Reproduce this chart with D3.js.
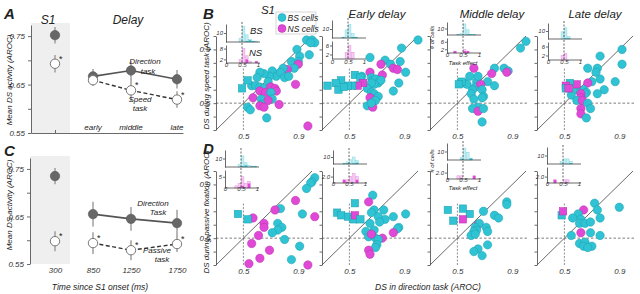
<!DOCTYPE html>
<html>
<head>
<meta charset="utf-8">
<script src="https://cdn.jsdelivr.net/npm/d3@7"></script>
<style>
  body { margin: 0; background: #fff; }
  svg text { font-family: "Liberation Sans", Arial, sans-serif; font-style: italic; fill: #222; }
  .axis path, .axis line { stroke: #444; stroke-width: 0.8; }
  .axis text { font-size: 8px; fill: #333; }
</style>
</head>
<body>
<svg id="fig" width="640" height="294"></svg>
<script>
// ---- panels A and C: mean DS activity ----
const epochs = ['S1', 'early', 'middle', 'late'];
const epochTimes = [300, 850, 1250, 1750];
const timeTicks = [300, 850, 1250, 1750];
const meanTicks = [0.55, 0.6, 0.65, 0.7, 0.75];
const meanLabels = [0.55, 0.65, 0.75];

const dirSpeedMean = [0.752, 0.667, 0.679, 0.661];
const dirSpeedErr = [0.017, 0.015, 0.019, 0.019];
const speedMean = [0.693, 0.659, 0.638, 0.619];
const speedErr = [0.018, 0.012, 0.023, 0.017];
const speedSig = [1, 0, 1, 1];

const dirPassMean = [0.735, 0.655, 0.645, 0.636];
const dirPassErr = [0.017, 0.026, 0.025, 0.028];
const passMean = [0.598, 0.594, 0.579, 0.592];
const passErr = [0.021, 0.023, 0.021, 0.017];
const passSig = [1, 1, 1, 1];

// ---- panels B and D: per-cell scatter [direction AROC, other AROC, type, square] ----
const scatterTicks = [0.3, 0.4, 0.5, 0.6, 0.7, 0.8, 0.9, 1.0];
const scatterLabels = [0.5, 0.9];
const colTitles = ['S1', 'Early delay', 'Middle delay', 'Late delay'];

const bS1 = [
  [0.96, 0.97, 'BS'], [1.00, 0.97, 'BS'], [1.02, 0.95, 'BS'], [0.99, 0.95, 'BS'],
  [0.89, 0.90, 'BS'], [0.98, 0.86, 'BS'], [0.91, 0.85, 'BS'], [0.85, 0.81, 'BS'],
  [0.90, 0.81, 'BS'], [0.90, 0.79, 'NS'], [0.87, 0.76, 'BS'], [0.82, 0.75, 'NS'],
  [0.79, 0.76, 'BS'], [0.71, 0.74, 'BS'], [0.74, 0.70, 'BS'], [0.77, 0.73, 'BS'],
  [0.80, 0.69, 'BS'], [0.83, 0.70, 'BS'], [0.69, 0.70, 'BS'], [0.65, 0.72, 'BS'],
  [0.62, 0.73, 'BS'], [0.60, 0.69, 'BS'], [0.68, 0.66, 'BS'], [0.56, 0.63, 'BS'],
  [0.49, 0.61, 'BS', 1], [0.53, 0.67, 'BS', 1], [0.59, 0.63, 'BS'], [0.62, 0.62, 'BS'],
  [0.65, 0.61, 'BS'], [0.62, 0.59, 'NS'], [0.66, 0.58, 'NS'], [0.70, 0.62, 'NS'],
  [0.73, 0.61, 'NS'], [0.74, 0.59, 'NS'], [0.70, 0.58, 'BS'], [0.57, 0.54, 'NS'],
  [0.63, 0.53, 'BS'], [0.71, 0.53, 'BS'], [0.68, 0.52, 'NS'], [0.88, 0.64, 'NS'],
  [0.63, 0.49, 'BS'], [0.62, 0.48, 'NS'], [0.65, 0.47, 'NS'], [0.76, 0.49, 'NS'],
  [0.53, 0.47, 'BS'], [0.55, 0.45, 'BS'], [0.67, 0.39, 'BS'], [0.97, 0.33, 'NS']
];
const bEarly = [
  [1.00, 0.97, 'BS'], [0.88, 0.91, 'BS'], [0.76, 0.82, 'BS'], [0.87, 0.81, 'BS'],
  [0.80, 0.79, 'BS'], [0.73, 0.79, 'NS'], [0.65, 0.84, 'BS'], [0.82, 0.76, 'NS'],
  [0.85, 0.75, 'NS'], [0.91, 0.73, 'BS'], [0.74, 0.71, 'NS'], [0.86, 0.65, 'BS'],
  [0.82, 0.59, 'BS'], [0.65, 0.73, 'NS'], [0.66, 0.69, 'BS'], [0.59, 0.70, 'BS'],
  [0.67, 0.67, 'BS'], [0.69, 0.68, 'BS'], [0.71, 0.65, 'BS'], [0.73, 0.67, 'BS'],
  [0.68, 0.64, 'BS'], [0.66, 0.65, 'BS'], [0.63, 0.61, 'BS'], [0.66, 0.58, 'BS'],
  [0.68, 0.57, 'BS'], [0.71, 0.55, 'BS'], [0.65, 0.54, 'NS'], [0.69, 0.52, 'BS'],
  [0.63, 0.48, 'BS'], [0.67, 0.47, 'NS'], [0.66, 0.50, 'BS'],
  [0.54, 0.71, 'BS', 1], [0.58, 0.69, 'BS', 1], [0.60, 0.65, 'NS', 1], [0.56, 0.63, 'NS', 1],
  [0.52, 0.63, 'BS', 1], [0.49, 0.63, 'BS', 1], [0.44, 0.67, 'BS', 1], [0.40, 0.65, 'BS', 1],
  [0.42, 0.60, 'BS', 1], [0.46, 0.62, 'BS', 1], [0.34, 0.63, 'BS', 1]
];
const bMiddle = [
  [1.00, 0.96, 'BS'], [0.96, 0.91, 'BS'], [0.77, 0.76, 'BS'], [0.84, 0.76, 'BS'],
  [0.87, 0.74, 'BS'], [0.86, 0.73, 'NS'], [0.75, 0.72, 'NS'], [0.62, 0.76, 'NS'],
  [0.72, 0.66, 'BS'], [0.77, 0.63, 'BS'], [0.64, 0.66, 'BS'], [0.63, 0.62, 'BS'],
  [0.67, 0.64, 'NS'], [0.68, 0.60, 'BS'], [0.61, 0.60, 'BS'], [0.69, 0.55, 'BS'],
  [0.68, 0.54, 'BS'], [0.60, 0.57, 'BS'], [0.62, 0.53, 'BS'], [0.65, 0.47, 'BS'],
  [0.61, 0.46, 'BS'], [0.65, 0.44, 'NS'], [0.69, 0.46, 'BS'], [0.68, 0.36, 'BS'],
  [0.59, 0.70, 'BS'], [0.53, 0.66, 'BS', 1], [0.51, 0.64, 'BS', 1], [0.55, 0.65, 'BS'],
  [0.57, 0.64, 'BS'], [0.65, 0.70, 'BS']
];
const bLate = [
  [0.92, 0.90, 'BS'], [0.92, 0.79, 'BS'], [0.76, 0.85, 'BS'], [0.74, 0.76, 'BS'],
  [0.67, 0.76, 'BS'], [0.73, 0.73, 'BS'], [0.76, 0.68, 'BS'], [0.87, 0.66, 'BS'],
  [0.79, 0.60, 'BS'], [0.74, 0.57, 'BS'], [0.70, 0.66, 'BS'], [0.67, 0.65, 'NS'],
  [0.59, 0.64, 'NS', 1], [0.54, 0.65, 'BS', 1], [0.51, 0.63, 'NS', 1], [0.51, 0.61, 'BS', 1],
  [0.53, 0.61, 'NS', 1], [0.59, 0.60, 'BS'], [0.62, 0.59, 'BS'], [0.64, 0.60, 'BS'],
  [0.66, 0.58, 'BS'], [0.65, 0.57, 'BS'], [0.55, 0.56, 'BS'], [0.62, 0.57, 'NS'],
  [0.62, 0.54, 'NS'], [0.59, 0.52, 'BS'], [0.63, 0.52, 'NS'], [0.67, 0.50, 'BS'],
  [0.62, 0.46, 'NS'], [0.69, 0.46, 'BS'], [0.62, 0.42, 'NS'], [0.66, 0.39, 'BS']
];
const dS1 = [
  [1.02, 0.95, 'BS'], [1.00, 0.92, 'BS'], [0.99, 0.91, 'BS'], [0.96, 0.87, 'BS'],
  [0.88, 0.78, 'NS'], [0.77, 0.72, 'BS'], [0.73, 0.71, 'NS'], [0.93, 0.68, 'BS'],
  [1.02, 0.66, 'NS'], [0.57, 0.65, 'NS'], [0.46, 0.68, 'BS', 1], [0.53, 0.64, 'BS', 1],
  [0.65, 0.61, 'NS'], [0.65, 0.58, 'NS'], [0.75, 0.61, 'BS'], [0.78, 0.58, 'BS'],
  [0.75, 0.56, 'BS'], [0.71, 0.54, 'BS'], [0.61, 0.52, 'NS'], [0.80, 0.49, 'BS'],
  [0.56, 0.46, 'NS'], [0.91, 0.44, 'BS'], [0.69, 0.41, 'NS'], [0.62, 0.35, 'NS'],
  [0.85, 0.34, 'BS'], [0.54, 0.31, 'NS'], [0.97, 0.30, 'NS']
];
const dEarly = [
  [0.67, 0.82, 'BS'], [0.64, 0.77, 'NS'], [0.54, 0.76, 'BS', 1], [0.68, 0.71, 'BS'],
  [0.66, 0.69, 'BS'], [0.75, 0.71, 'BS'], [0.82, 0.66, 'BS'], [0.91, 0.68, 'BS'],
  [0.76, 0.64, 'BS'], [0.71, 0.66, 'BS'], [0.72, 0.62, 'BS'], [0.65, 0.61, 'BS'],
  [0.86, 0.58, 'BS'], [0.85, 0.57, 'BS'], [0.82, 0.54, 'NS'], [0.62, 0.55, 'BS'],
  [0.68, 0.56, 'BS'], [0.64, 0.51, 'BS'], [0.69, 0.50, 'BS'], [0.74, 0.50, 'NS'],
  [0.71, 0.49, 'BS'], [0.66, 0.53, 'NS'], [0.70, 0.45, 'BS'], [0.69, 0.43, 'BS'],
  [0.64, 0.41, 'NS'], [0.65, 0.38, 'NS'],
  [0.41, 0.69, 'BS', 1], [0.44, 0.67, 'BS', 1], [0.49, 0.66, 'BS', 1], [0.53, 0.64, 'BS', 1],
  [0.54, 0.67, 'NS', 1], [0.58, 0.64, 'BS', 1]
];
const dMiddle = [
  [0.86, 0.77, 'BS'], [0.86, 0.75, 'BS'], [0.69, 0.70, 'BS'], [0.77, 0.67, 'BS'],
  [0.80, 0.65, 'BS'], [0.59, 0.68, 'BS', 1], [0.54, 0.72, 'BS', 1], [0.43, 0.71, 'BS', 1],
  [0.47, 0.63, 'BS', 1], [0.54, 0.64, 'NS', 1], [0.65, 0.60, 'NS'], [0.66, 0.61, 'BS'],
  [0.63, 0.58, 'BS'], [0.64, 0.56, 'BS'], [0.62, 0.55, 'BS'], [0.60, 0.52, 'BS'],
  [0.63, 0.53, 'BS'], [0.71, 0.58, 'BS'], [0.72, 0.55, 'BS'], [0.72, 0.45, 'BS'],
  [0.65, 0.42, 'BS'], [0.62, 0.40, 'BS'], [0.68, 0.37, 'BS']
];
const dLate = [
  [0.72, 0.76, 'BS'], [0.90, 0.73, 'BS'], [0.74, 0.71, 'BS'], [0.64, 0.71, 'NS'],
  [0.60, 0.68, 'BS'], [0.48, 0.67, 'BS', 1], [0.49, 0.70, 'NS', 1], [0.56, 0.65, 'BS'],
  [0.62, 0.64, 'BS'], [0.76, 0.65, 'BS'], [0.61, 0.61, 'BS'], [0.65, 0.61, 'BS'],
  [0.69, 0.62, 'BS'], [0.62, 0.54, 'NS'], [0.69, 0.54, 'BS'], [0.55, 0.52, 'BS'],
  [0.76, 0.52, 'BS'], [0.61, 0.46, 'BS'], [0.65, 0.47, 'BS'], [0.64, 0.44, 'BS'],
  [0.70, 0.44, 'BS'], [0.67, 0.43, 'BS']
];

// ---- inset histograms of task effect, 0.1 bins from 0 to 1: [BS all, BS sig, NS all, NS sig] ----
const bS1Hist = [[0,0,0,0,4,17,8,3,1,1],[0,0,0,0,0,0,1,2,1,0],[0,0,0,0,2,8,4,1,0,1],[0,0,0,0,0,0,2,0,0,1]];
const bEarlyHist = [[0,0,0,1,9,15,5,1,0,0],[0,0,0,1,0,0,1,1,0,0],[0,0,0,0,3,6,3,0,0,0],[0,0,0,0,0,0,0,0,0,0]];
const bMiddleHist = [[0,0,0,1,2,17,8,1,1,0],[0,0,0,1,0,0,1,1,1,0],[0,0,1,0,0,2,1,0,0,0],[0,0,1,0,0,1,1,0,0,0]];
const bLateHist = [[0,0,0,0,9,14,3,0,0,0],[0,0,0,0,0,1,1,0,0,0],[0,0,0,0,2,3,0,0,0,0],[0,0,0,0,0,0,0,0,0,0]];
const dS1Hist = [[0,0,0,0,3,13,5,2,1,1],[0,0,0,0,0,1,2,0,1,1],[0,0,0,1,2,5,2,3,0,0],[0,0,0,0,0,1,0,2,0,0]];
const dEarlyHist = [[0,0,0,1,3,6,10,5,0,0],[0,0,0,1,1,0,1,2,0,0],[0,0,0,1,1,2,3,2,0,0],[0,0,0,1,0,0,0,1,0,0]];
const dMiddleHist = [[0,0,0,0,3,14,9,2,0,0],[0,0,0,0,1,0,0,2,0,0],[0,0,0,1,1,0,0,0,1,0],[0,0,0,0,0,0,0,0,1,0]];
const dLateHist = [[0,0,0,0,3,6,6,3,0,0],[0,0,0,0,0,0,0,1,0,0],[0,0,1,0,0,1,1,0,0,0],[0,0,1,0,0,0,0,0,0,0]];
const histBins = [0, 0.1, 0.2, 0.3, 0.4, 0.5, 0.6, 0.7, 0.8, 0.9];
const histXTicks = [0, 0.5, 1];

const colors = {
  BS: { fill: '#2fc3d3', stroke: '#1c9fae', light: '#c6eff4', edge: '#82d8e2' },
  NS: { fill: '#e049d6', stroke: '#b72fae', light: '#f6ccf2', edge: '#e692de' }
};

const svg = d3.select('#fig');
svg.append('rect').attr('width', 640).attr('height', 294).attr('fill', '#fff');

function letter(t, x, y) {
  svg.append('text').attr('x', x).attr('y', y)
    .style('font-size', '15px').style('font-weight', 'bold').text(t);
}

function label(t, x, y, size) {
  svg.append('text').attr('x', x).attr('y', y).attr('text-anchor', 'middle')
    .style('font-size', size).text(t);
}

function drawMeanPanel(opt) {
  const { top, bottom, axisX, dir, dirErr, other, otherErr, sig } = opt;
  const y = d3.scaleLinear().domain([0.55, 0.773]).range([bottom, top]);
  const x = d3.scaleLinear()
    .domain([100, 300, 850, 1250, 1750, 1800])
    .range([axisX, 55, 93, 131, 177, 183]);
  const g = svg.append('g');

  g.append('rect')
    .attr('x', axisX).attr('y', top - 2)
    .attr('width', 70 - axisX).attr('height', bottom - top + 2)
    .attr('fill', '#efefef');

  const yAxis = d3.axisLeft(y).tickValues(meanTicks).tickSizeInner(3).tickSizeOuter(0)
    .tickFormat(d => meanLabels.some(v => Math.abs(v - d) < 1e-6) ? d3.format('.2f')(d) : '');
  g.append('g').attr('class', 'axis').attr('transform', `translate(${axisX},0)`).call(yAxis);

  const pts = epochTimes.map((t, i) => ({
    t, i, dir: dir[i], dirErr: dirErr[i], other: other[i], otherErr: otherErr[i], sig: sig[i]
  }));
  const delay = pts.slice(1);

  // error bars
  g.selectAll('.err-dir').data(pts).join('line').attr('class', 'err-dir')
    .attr('x1', d => x(d.t)).attr('x2', d => x(d.t))
    .attr('y1', d => y(d.dir - d.dirErr)).attr('y2', d => y(d.dir + d.dirErr))
    .attr('stroke', '#9a9a9a').attr('stroke-width', 1.4);
  g.selectAll('.err-oth').data(pts).join('line').attr('class', 'err-oth')
    .attr('x1', d => x(d.t)).attr('x2', d => x(d.t))
    .attr('y1', d => y(d.other - d.otherErr)).attr('y2', d => y(d.other + d.otherErr))
    .attr('stroke', '#9a9a9a').attr('stroke-width', 1.4);

  g.append('path').datum(delay)
    .attr('d', d3.line().x(d => x(d.t)).y(d => y(d.dir)))
    .attr('fill', 'none').attr('stroke', '#555').attr('stroke-width', 1.7);
  g.append('path').datum(delay)
    .attr('d', d3.line().x(d => x(d.t)).y(d => y(d.other)))
    .attr('fill', 'none').attr('stroke', '#333').attr('stroke-width', 1.4)
    .attr('stroke-dasharray', '4,2.5');

  g.selectAll('.dot-dir').data(pts).join('circle').attr('class', 'dot-dir')
    .attr('cx', d => x(d.t)).attr('cy', d => y(d.dir)).attr('r', 4.7)
    .attr('fill', '#676767').attr('stroke', '#555').attr('stroke-width', 0.6);
  g.selectAll('.dot-oth').data(pts).join('circle').attr('class', 'dot-oth')
    .attr('cx', d => x(d.t)).attr('cy', d => y(d.other)).attr('r', 4.7)
    .attr('fill', '#fff').attr('stroke', '#777').attr('stroke-width', 1);

  g.selectAll('.star').data(pts.filter(d => d.sig)).join('text').attr('class', 'star')
    .attr('x', d => x(d.t) + 4).attr('y', d => y(d.other) - 2)
    .style('font-size', '9px').style('font-style', 'normal').text('*');

  return { x, y, g };
}

// ---- panel A ----
letter('A', 4, 19);
const a = drawMeanPanel({
  top: 25, bottom: 133, axisX: 31,
  dir: dirSpeedMean, dirErr: dirSpeedErr, other: speedMean, otherErr: speedErr, sig: speedSig
});
a.g.append('g').attr('class', 'axis').attr('transform', 'translate(0,133)')
  .call(d3.axisBottom(a.x).tickValues([300]).tickFormat('').tickSizeInner(-3).tickSizeOuter(0));
a.g.selectAll('.epoch').data(epochs.slice(1)).join('text').attr('class', 'epoch')
  .attr('x', (d, i) => a.x(epochTimes[i + 1])).attr('y', 130)
  .attr('text-anchor', 'middle').style('font-size', '8px').text(d => d);
label('S1', 48, 24, '12px');
label('Delay', 128, 24, '12px');
label('Direction', 145, 64, '8px');
label('task', 148, 73.5, '8px');
label('Speed', 140, 101.5, '8px');
label('task', 140, 111, '8px');
svg.append('text').attr('transform', 'translate(12,80) rotate(-90)')
  .attr('text-anchor', 'middle').style('font-size', '8px').text('Mean DS activity (AROC)');

// ---- panel C ----
letter('C', 4, 156);
const c = drawMeanPanel({
  top: 158, bottom: 264, axisX: 30,
  dir: dirPassMean, dirErr: dirPassErr, other: passMean, otherErr: passErr, sig: passSig
});
const cAxis = c.g.append('g').attr('class', 'axis').attr('transform', 'translate(0,264)')
  .call(d3.axisBottom(c.x).tickValues(timeTicks).tickSize(0).tickPadding(3).tickFormat(d3.format('d')));
cAxis.select('.domain').remove();
label('Direction', 153, 205.5, '8px');
label('Task', 158, 215, '8px');
label('Passive', 157, 252.5, '8px');
label('task', 162, 262, '8px');
svg.append('text').attr('transform', 'translate(12,205) rotate(-90)')
  .attr('text-anchor', 'middle').style('font-size', '8px').text('Mean DS activity  (AROC)');
label('Time since S1 onset (ms)', 100, 290, '8.5px');

// ---- panels B and D ----
const colLeft = [216, 322, 430, 537];
const rowTop = [36, 171];
const plotW = 96;
const plotH = 94;

const scatterPanels = [
  { data: bS1, hist: bS1Hist, col: 0, row: 0, inset: { x: 226, t: [24, 42], b: [45, 63], lab: 66, bt: [2, 8], bm: 10 } },
  { data: bEarly, hist: bEarlyHist, col: 1, row: 0, inset: { x: 332, t: [20, 38], b: [41, 59], lab: 63, bt: [2, 6], bm: 8 } },
  { data: bMiddle, hist: bMiddleHist, col: 2, row: 0, inset: { x: 447, t: [22, 35], b: [38, 53], lab: 56, bt: [2, 6], bm: 8, names: true } },
  { data: bLate, hist: bLateHist, col: 3, row: 0, inset: { x: 548, t: [23, 39], b: [42, 60], lab: 63, bt: [2, 6], bm: 8 } },
  { data: dS1, hist: dS1Hist, col: 0, row: 1, inset: { x: 225, t: [150, 167], b: [170, 188], lab: 190, bt: [5], bm: 8 } },
  { data: dEarly, hist: dEarlyHist, col: 1, row: 1, inset: { x: 333, t: [150, 164], b: [167, 183], lab: 185, bt: [2], bm: 5 } },
  { data: dMiddle, hist: dMiddleHist, col: 2, row: 1, inset: { x: 447, t: [143, 160], b: [163, 179], lab: 181, bt: [2], bm: 5, names: true } },
  { data: dLate, hist: dLateHist, col: 3, row: 1, inset: { x: 547, t: [147, 164], b: [167, 183], lab: 185, bt: [2], bm: 5 } }
];

function drawHist(g, ix, yr, all, sig, type, maxV, ticks) {
  const x = d3.scaleLinear().domain([0, 1]).range([ix, ix + 32]);
  const y = d3.scaleLinear().domain([0, maxV]).range([yr[1], yr[0]]);
  const bw = x(0.1) - x(0);
  g.selectAll(null).data(histBins.map((b, i) => ({ b, n: all[i] })).filter(d => d.n > 0))
    .join('rect')
    .attr('x', d => x(d.b) + 0.3).attr('width', bw - 0.6)
    .attr('y', d => y(d.n)).attr('height', d => yr[1] - y(d.n))
    .attr('fill', colors[type].light).attr('stroke', colors[type].edge).attr('stroke-width', 0.5);
  g.selectAll(null).data(histBins.map((b, i) => ({ b, n: sig[i] })).filter(d => d.n > 0))
    .join('rect')
    .attr('x', d => x(d.b) + 0.3).attr('width', bw - 0.6)
    .attr('y', d => y(d.n)).attr('height', d => yr[1] - y(d.n))
    .attr('fill', colors[type].fill);
  const ax = g.append('g').attr('class', 'axis').attr('transform', `translate(${ix},0)`)
    .call(d3.axisLeft(y).tickValues(ticks).tickSize(2).tickPadding(1).tickSizeOuter(0));
  ax.selectAll('text').style('font-size', '6px');
  g.append('line').attr('x1', ix).attr('x2', ix + 34).attr('y1', yr[1]).attr('y2', yr[1])
    .attr('stroke', '#444').attr('stroke-width', 0.8);
  g.append('line').attr('x1', x(0.5)).attr('x2', x(0.5)).attr('y1', yr[0] - 2).attr('y2', yr[1])
    .attr('stroke', '#222').attr('stroke-width', 0.7).attr('stroke-dasharray', '2,1.5');
  return x;
}

function drawScatter(p) {
  const left = colLeft[p.col];
  const top = rowTop[p.row];
  const x = d3.scaleLinear().domain([0.3, 1.0]).range([left, left + plotW]);
  const y = d3.scaleLinear().domain([0.3, 1.0]).range([top + plotH, top]);
  const g = svg.append('g');
  const fmt = d => p.col === 0 && scatterLabels.some(v => Math.abs(v - d) < 1e-6) ? d3.format('.1f')(d) : '';

  g.append('g').attr('class', 'axis').attr('transform', `translate(${left},0)`)
    .call(d3.axisLeft(y).tickValues(scatterTicks).tickSize(2.5).tickSizeOuter(0).tickFormat(fmt));
  const xa = g.append('g').attr('class', 'axis').attr('transform', `translate(0,${top + plotH})`)
    .call(d3.axisBottom(x).tickValues(scatterLabels).tickSize(0).tickPadding(3).tickFormat(d3.format('.1f')));
  xa.select('.domain').remove();

  // reference lines
  g.append('line').attr('x1', x(0.5)).attr('x2', x(0.5)).attr('y1', y(0.3)).attr('y2', y(0.76))
    .attr('stroke', '#999').attr('stroke-width', 1.1).attr('stroke-dasharray', '2,1.5');
  g.append('line').attr('x1', x(0.3)).attr('x2', x(1.02)).attr('y1', y(0.5)).attr('y2', y(0.5))
    .attr('stroke', '#444').attr('stroke-width', 0.7).attr('stroke-dasharray', '2.5,2');
  g.append('line').attr('x1', x(0.3)).attr('x2', x(1.0)).attr('y1', y(0.3)).attr('y2', y(1.0))
    .attr('stroke', '#444').attr('stroke-width', 0.8);

  const cells = p.data.map(d => ({ x: d[0], y: d[1], type: d[2], sq: d[3] === 1 }));
  g.selectAll('.cell-c').data(cells.filter(d => !d.sq)).join('circle').attr('class', 'cell-c')
    .attr('cx', d => x(d.x)).attr('cy', d => y(d.y)).attr('r', 4.2)
    .attr('fill', d => colors[d.type].fill).attr('stroke', d => colors[d.type].stroke).attr('stroke-width', 0.5);
  g.selectAll('.cell-s').data(cells.filter(d => d.sq)).join('rect').attr('class', 'cell-s')
    .attr('x', d => x(d.x) - 3.7).attr('y', d => y(d.y) - 3.7).attr('width', 7.4).attr('height', 7.4)
    .attr('fill', d => colors[d.type].fill).attr('stroke', d => colors[d.type].stroke).attr('stroke-width', 0.5);

  // inset histograms
  const ins = p.inset;
  const ig = svg.append('g');
  drawHist(ig, ins.x, ins.t, p.hist[0], p.hist[1], 'BS', 20, [10]);
  const hx = drawHist(ig, ins.x, ins.b, p.hist[2], p.hist[3], 'NS', ins.bm, ins.bt);
  const hxa = ig.append('g').attr('class', 'axis').attr('transform', `translate(0,${ins.lab - 5})`)
    .call(d3.axisBottom(hx).tickValues(histXTicks).tickSize(0).tickPadding(2).tickFormat(d => d === 0.5 ? '0.5' : d));
  hxa.select('.domain').remove();
  hxa.selectAll('text').style('font-size', '6px');
  if (ins.names) {
    ig.append('text').attr('x', ins.x + 16).attr('y', ins.lab + 9).attr('text-anchor', 'middle')
      .style('font-size', '6px').text('Task effect');
    ig.append('text').attr('transform', `translate(${ins.x - 13},${(ins.t[0] + ins.b[1]) / 2}) rotate(-90)`)
      .attr('text-anchor', 'middle').style('font-size', '6px').text('# of cells');
  }
  if (p.col === 0 && p.row === 0) {
    ig.append('text').attr('x', ins.x + 24).attr('y', ins.t[0] + 10).style('font-size', '9.5px').text('BS');
    ig.append('text').attr('x', ins.x + 23).attr('y', ins.b[0] + 11).style('font-size', '9.5px').text('NS');
  }
}

scatterPanels.forEach(drawScatter);

letter('B', 203, 19);
letter('D', 203, 154);
svg.selectAll('.col-title').data(colTitles).join('text').attr('class', 'col-title')
  .attr('x', (d, i) => [268, 377, 492, 595][i]).attr('y', (d, i) => i === 0 ? 14 : 18)
  .attr('text-anchor', 'middle').style('font-size', '11.5px').text(d => d);

svg.append('text').attr('transform', 'translate(209,76) rotate(-90)')
  .attr('text-anchor', 'middle').style('font-size', '8px').text('DS during speed task (AROC)');
svg.append('text').attr('transform', 'translate(209,212) rotate(-90)')
  .attr('text-anchor', 'middle').style('font-size', '8px').text('DS during passive fixation (AROC)');
label('DS in direction task (AROC)', 428, 290, '8.5px');

// legend
const legend = svg.append('g');
legend.append('rect').attr('x', 276).attr('y', 12).attr('width', 40).attr('height', 22)
  .attr('fill', '#fff').attr('stroke', '#ccc').attr('stroke-width', 0.8);
legend.selectAll('circle').data(['BS', 'NS']).join('circle')
  .attr('cx', 282).attr('cy', (d, i) => 17.5 + i * 11).attr('r', 4)
  .attr('fill', d => colors[d].fill).attr('stroke', d => colors[d].stroke).attr('stroke-width', 0.5);
legend.selectAll('text').data(['BS cells', 'NS cells']).join('text')
  .attr('x', 287.5).attr('y', (d, i) => 20.5 + i * 11).style('font-size', '8.5px').text(d => d);
</script>
</body>
</html>
